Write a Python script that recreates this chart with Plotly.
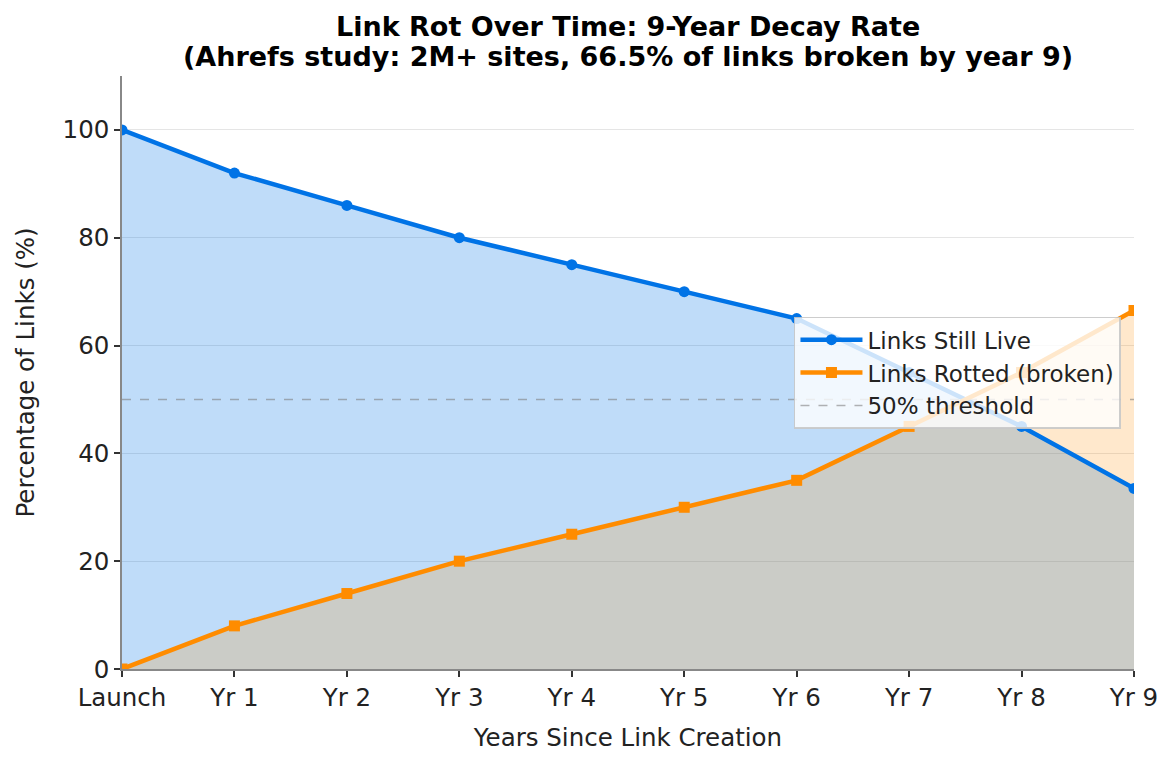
import plotly.graph_objects as go

categories = ["Launch", "Yr 1", "Yr 2", "Yr 3", "Yr 4", "Yr 5", "Yr 6", "Yr 7", "Yr 8", "Yr 9"]
links_live = [100, 92, 86, 80, 75, 70, 65, 55, 45, 33.5]
links_rotted = [0, 8, 14, 20, 25, 30, 35, 45, 55, 66.5]
threshold = 50
y_ticks = [0, 20, 40, 60, 80, 100]
title_lines = ["Link Rot Over Time: 9-Year Decay Rate",
               "(Ahrefs study: 2M+ sites, 66.5% of links broken by year 9)"]

x = list(range(len(categories)))
BLUE = "rgb(0,115,230)"
ORANGE = "rgb(255,140,0)"
FONT = "DejaVu Sans"

fig = go.Figure()
# fills
fig.add_trace(go.Scatter(x=x, y=links_live, mode="lines", line=dict(width=0),
                         fill="tozeroy", fillcolor="rgba(0,115,230,0.25)",
                         showlegend=False, hoverinfo="skip"))
fig.add_trace(go.Scatter(x=x, y=links_rotted, mode="lines", line=dict(width=0),
                         fill="tozeroy", fillcolor="rgba(255,140,0,0.2)",
                         showlegend=False, hoverinfo="skip"))
# threshold
fig.add_trace(go.Scatter(x=[x[0], x[-1]], y=[threshold, threshold], mode="lines",
                         line=dict(color="rgba(128,128,128,0.6)", width=1.5, dash="dash"),
                         name="50% threshold", legendrank=3))
# lines
fig.add_trace(go.Scatter(x=x, y=links_live, mode="lines+markers", name="Links Still Live",
                         line=dict(color=BLUE, width=4.5),
                         marker=dict(symbol="circle", size=11, color=BLUE),
                         legendrank=1))
fig.add_trace(go.Scatter(x=x, y=links_rotted, mode="lines+markers", name="Links Rotted (broken)",
                         line=dict(color=ORANGE, width=4.5),
                         marker=dict(symbol="square", size=11, color=ORANGE),
                         legendrank=2))

# title as two centered annotations
for txt, yy in zip(title_lines, [1.0843, 1.0337]):
    fig.add_annotation(text="<b>" + txt + "</b>", xref="paper", yref="paper",
                       x=0.5, y=yy, xanchor="center", yanchor="middle", showarrow=False,
                       font=dict(size=27, family=FONT, color="black"))

fig.update_layout(
    width=1173, height=767,
    margin=dict(l=122, r=39, t=76, b=98),
    paper_bgcolor="white", plot_bgcolor="white",
    font=dict(family=FONT, color="#222222", size=24),
    legend=dict(x=0.664, y=0.594, xanchor="left", yanchor="top",
                bgcolor="rgba(255,255,255,0.8)", bordercolor="rgba(200,200,200,0.9)", borderwidth=1.5,
                font=dict(size=23, family=FONT, color="#222222"), traceorder="normal",
                itemwidth=62),
    showlegend=True,
)
fig.update_xaxes(range=[0, 9], tickvals=x, ticktext=categories, showgrid=False,
                 zeroline=False, showline=True, linecolor="#888888", linewidth=1.5,
                 ticks="outside", ticklen=6, tickwidth=1.5, tickcolor="#333333",
                 tickfont=dict(size=24.5),
                 title=dict(text="Years Since Link Creation", standoff=18, font=dict(size=24.5)))
fig.update_yaxes(range=[0, 110], tickvals=y_ticks, showgrid=True, gridcolor="rgba(0,0,0,0.1)",
                 gridwidth=1.2, zeroline=False, showline=True, linecolor="#888888", linewidth=1.5,
                 ticks="outside", ticklen=6, tickwidth=1.5, tickcolor="#333333",
                 tickfont=dict(size=24.5),
                 title=dict(text="Percentage of Links (%)", standoff=21, font=dict(size=24.5)))

fig.write_html("out.html")
